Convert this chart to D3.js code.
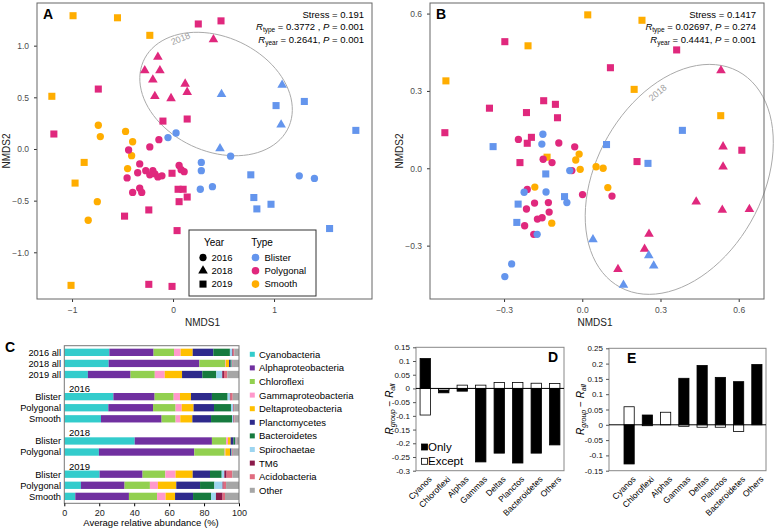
<!DOCTYPE html>
<html><head><meta charset="utf-8">
<script src="https://cdn.jsdelivr.net/npm/d3@7"></script>
<style>body{margin:0;background:#fff}svg{display:block}text{font-family:"Liberation Sans",Arial,Helvetica,sans-serif}</style>
</head><body><svg id="c" width="780" height="530"></svg>
<script>
// ---------- DATA ----------
const typeNames = ["Blister", "Polygonal", "Smooth"];
const typeColors = ["#6495ED", "#E0287D", "#FFAD00"];
const yearNames = ["2016", "2018", "2019"];
// [NMDS1, NMDS2, type index, year index]
const pointsA = [
  [-0.99,1.29,2,2],[-0.55,1.27,2,2],[-0.23,1.10,2,2],[-1.20,0.51,2,2],[-0.88,-0.13,2,2],[-0.97,-0.33,2,2],[-1.01,-1.32,2,2],
  [0.25,1.21,1,2],[0.475,1.24,1,2],[-0.74,0.58,1,2],[-0.10,0.27,1,2],[0.14,0.29,1,2],[-1.18,0.145,1,2],[-0.01,-0.235,1,2],
  [0.05,-0.39,1,2],[0.10,-0.39,1,2],[0.14,-0.465,1,2],[0.06,-0.51,1,2],[-0.24,-0.59,1,2],[-0.48,-0.65,1,2],[0.04,-0.79,1,2],
  [-0.24,-1.31,1,2],[-0.01,-1.33,1,2],
  [0.40,1.06,1,1],[-0.15,0.89,1,1],[-0.28,0.76,1,1],[-0.13,0.76,1,1],[-0.20,0.67,1,1],[0.12,0.63,1,1],[0.14,0.55,1,1],
  [-0.18,0.51,1,1],[-0.02,0.49,1,1],
  [0.48,0.53,0,1],[1.08,0.62,0,1],[1.07,0.235,0,1],[0.465,0.005,0,1],
  [1.30,0.46,0,2],[1.02,0.42,0,2],[1.81,0.18,0,2],[0.77,-0.25,0,2],[0.80,-0.47,0,2],[0.83,-0.58,0,2],[0.97,-0.535,0,2],[1.55,-0.77,0,2],
  [-0.05,0.11,0,0],[0.03,0.155,0,0],[0.57,-0.07,0,0],[0.28,-0.13,0,0],[0.28,-0.21,0,0],[0.27,-0.39,0,0],[0.39,-0.365,0,0],
  [1.25,-0.26,0,0],[1.40,-0.285,0,0],
  [-0.74,0.23,2,0],[-0.72,0.12,2,0],[-0.47,0.17,2,0],[-0.40,0.07,2,0],[-0.41,-0.065,2,0],[-0.45,-0.19,2,0],[-0.75,-0.51,2,0],[-0.84,-0.69,2,0],
  [-0.23,0.02,1,0],[-0.14,0.09,1,0],[-0.44,-0.01,1,0],[-0.455,-0.28,1,0],[-0.33,-0.145,1,0],[-0.35,-0.23,1,0],[-0.27,-0.21,1,0],
  [-0.20,-0.21,1,0],[-0.23,-0.25,1,0],[-0.18,-0.24,1,0],[-0.15,-0.27,1,0],[-0.11,-0.26,1,0],[-0.40,-0.42,1,0],[-0.33,-0.38,1,0],
  [-0.31,-0.42,1,0],[0.06,-0.16,1,0],[0.11,-0.22,1,0],[0.08,-0.20,1,0]
];
const pointsB = [
  [-0.208,0.475,2,2],[-0.523,0.339,2,2],[0.021,0.595,2,2],[0.229,0.574,2,2],[0.199,0.306,2,2],[0.531,0.204,2,2],[-0.135,0.043,2,2],
  [-0.297,0.491,1,2],[-0.356,0.233,1,2],[-0.214,0.216,1,2],[-0.148,0.262,1,2],[-0.103,0.248,1,2],[-0.095,0.196,1,2],[-0.527,0.138,1,2],
  [-0.195,0.12,1,2],[-0.211,0.097,1,2],[0.362,0.459,1,2],[0.108,0.390,1,2],[0.612,0.07,1,2],[-0.239,0.022,1,2],[0.21,0.026,1,2],
  [-0.342,0.084,0,2],[0.384,0.147,0,2],[0.093,0.092,0,2],[-0.14,-0.022,0,2],[-0.068,-0.11,0,2],[-0.246,-0.139,0,2],[-0.251,-0.21,0,2],[0.252,0.019,0,2],
  [0.532,0.379,1,1],[0.540,0.084,1,1],[0.540,0.006,1,1],[0.437,-0.13,1,1],[0.537,-0.162,1,1],[0.641,-0.159,1,1],[0.256,-0.255,1,1],
  [0.239,-0.313,1,1],[0.137,-0.392,1,1],
  [0.041,-0.276,0,1],[0.255,-0.338,0,1],[0.274,-0.378,0,1],[0.158,-0.453,0,1],
  [-0.245,0.112,1,0],[-0.09,0.098,1,0],[-0.029,0.083,1,0],[-0.150,0.035,1,0],[-0.116,0.022,1,0],[-0.040,-0.009,1,0],[-0.211,-0.082,1,0],
  [0.001,-0.102,1,0],[0.114,-0.108,1,0],[-0.183,-0.135,1,0],[-0.13,-0.133,1,0],[-0.214,-0.158,1,0],[-0.127,-0.17,1,0],[-0.172,-0.197,1,0],
  [-0.154,-0.192,1,0],[-0.221,-0.223,1,0],[-0.186,-0.256,1,0],
  [-0.151,0.132,0,0],[-0.155,0.094,0,0],[-0.048,-0.009,0,0],[-0.223,-0.093,0,0],[-0.139,-0.092,0,0],[-0.059,-0.133,0,0],[-0.173,-0.256,0,0],
  [-0.271,-0.371,0,0],[-0.297,-0.42,0,0],
  [-0.012,0.055,2,0],[-0.025,0.032,2,0],[-0.008,-0.004,2,0],[0.053,0.006,2,0],[0.08,0.0,2,0],[0.098,-0.075,2,0],[-0.182,-0.073,2,0],[-0.117,-0.213,2,0]
];
// 2018 ellipse: [centre x, centre y, semi-axis a, semi-axis b, angle deg]
const ellipseA = [0.426, 0.532, 0.787, 0.555, -23.4];
const ellipseB = [0.372, -0.043, 0.476, 0.32, 61.8];
const statsA = ["0.191", "0.3772 ,", "0.001", "0.2641,", "0.001"];
const statsB = ["0.1417", "0.02697,", "0.274", "0.4441,", "0.001"];

const phyla = ["Cyanobacteria","Alphaproteobacteria","Chloroflexi","Gammaproteobacteria","Deltaproteobacteria","Planctomycetes","Bacteroidetes","Spirochaetae","TM6","Acidobacteria","Other"];
const phylaColors = ["#33CCCC","#7030A0","#92D050","#FF99CC","#FFC000","#2E2A8C","#167A3E","#9DD5F0","#8B1A4A","#E06C7F","#A6A6A6"];
const cRowLabels = ["2016 all","2018 all","2019 all","2016","Blister","Polygonal","Smooth","2018","Blister","Polygonal","2019","Blister","Polygonal","Smooth"];
const cValues = [
  [25.8,25.3,11.7,3.8,6.9,11.8,9.5,1.4,0.4,0.7,2.7],
  [25.4,51.9,14.7,0.4,1.9,0.9,0.6,0.4,0.2,0.2,3.4],
  [13.5,24.4,13.9,5.7,9.9,11.6,8.0,3.4,1.0,1.9,6.7],
  null,
  [28.1,23.6,10.9,3.6,6.3,12.0,9.0,1.3,0.4,1.2,3.6],
  [25.2,25.6,12.9,3.5,6.8,11.7,9.7,1.2,0.3,0.3,2.8],
  [21.0,34.7,8.0,2.7,6.9,10.7,12.0,0.8,0.3,0.4,2.5],
  null,
  [40.3,44.2,8.1,1.1,1.5,1.6,0.9,0.4,0.2,0.2,1.5],
  [19.8,54.6,17.4,0.4,2.7,0.6,0.3,0.3,0.2,0.3,3.4],
  null,
  [20.2,24.6,13.0,5.9,9.8,9.9,6.7,1.5,1.3,3.3,3.8],
  [9.5,25.0,14.5,4.6,10.5,13.6,8.2,4.7,0.6,1.4,7.4],
  [6.3,30.7,16.1,4.9,5.4,10.3,10.3,2.8,3.8,1.4,8.0]
];
const cTicks = [0,20,40,60,80,100];

const groups = ["Cyanos","Chloroflexi","Alphas","Gammas","Deltas","Planctos","Bacteroidetes","Others"];
const dOnly = [0.109,-0.016,-0.010,-0.268,-0.236,-0.272,-0.236,-0.206];
const dExcept = [-0.097,-0.006,0.012,0.012,0.022,0.022,0.019,0.018];
const eOnly = [-0.128,0.032,0.0,0.152,0.194,0.155,0.141,0.197];
const eExcept = [0.059,-0.003,0.041,-0.005,-0.008,-0.008,-0.022,0.0];
const dTicks = [-0.3,-0.25,-0.2,-0.15,-0.1,-0.05,0,0.05,0.1,0.15];
const eTicks = [-0.15,-0.1,-0.05,0,0.05,0.1,0.15,0.2,0.25];

// ---------- DRAW ----------
const svg = d3.select("#c");
svg.append("rect").attr("width",780).attr("height",530).attr("fill","#fff");
const shapes = [d3.symbolCircle, d3.symbolTriangle, d3.symbolSquare];
const shapeSize = [42, 40, 50];

function nmdsPanel(o) {
  const g = svg.append("g");
  const x = d3.scaleLinear().domain(o.xd).range([o.x0, o.x1]);
  const y = d3.scaleLinear().domain(o.yd).range([o.y1, o.y0]);
  const ax = g.append("g").attr("transform",`translate(0,${o.y1})`)
    .call(d3.axisBottom(x).tickValues(o.xt).tickFormat(d3.format(o.xf)).tickSize(3).tickPadding(5));
  const ay = g.append("g").attr("transform",`translate(${o.x0},0)`)
    .call(d3.axisLeft(y).tickValues(o.yt).tickFormat(d3.format(o.yf)).tickSize(3).tickPadding(5));
  [ax, ay].forEach(a => {
    a.select(".domain").remove();
    a.selectAll("line").attr("stroke","#333");
    a.selectAll("text").attr("fill","#4d4d4d").style("font-size","8.5px");
  });
  const e = o.ell, t = e[4]*Math.PI/180;
  const pts = d3.range(0, 360, 4).map(d => {
    const u = d*Math.PI/180, ex = e[2]*Math.cos(u), ey = e[3]*Math.sin(u);
    return [e[0] + ex*Math.cos(t) - ey*Math.sin(t), e[1] + ex*Math.sin(t) + ey*Math.cos(t)];
  });
  g.append("path").attr("d", d3.line().x(d=>x(d[0])).y(d=>y(d[1])).curve(d3.curveCardinalClosed)(pts))
    .attr("fill","none").attr("stroke","#aaa").attr("stroke-width",1);
  g.append("text").attr("transform",`translate(${x(o.lab[0])},${y(o.lab[1])}) rotate(${o.lab[2]})`)
    .attr("text-anchor","middle").attr("fill","#a0a0a0").style("font-size","9px").text("2018");
  g.append("g").selectAll("path").data(o.pts).join("path")
    .attr("transform", d => `translate(${x(d[0])},${y(d[1])})`)
    .attr("d", d => d3.symbol().type(shapes[d[3]]).size(shapeSize[d[3]])())
    .attr("fill", d => typeColors[d[2]]);
  g.append("rect").attr("x",o.x0).attr("y",o.y0).attr("width",o.x1-o.x0).attr("height",o.y1-o.y0)
    .attr("fill","none").attr("stroke","#666").attr("stroke-width",1);
  g.append("text").attr("x",(o.x0+o.x1)/2 - 2).attr("y",o.y1+27).attr("text-anchor","middle")
    .style("font-size","10px").attr("fill","#222").text("NMDS1");
  g.append("text").attr("transform",`translate(${o.x0-27.5},${(o.y0+o.y1)/2}) rotate(-90)`).attr("text-anchor","middle")
    .style("font-size","10px").attr("fill","#222").text("NMDS2");
  g.append("text").attr("x",o.x0+6).attr("y",19).style("font-size","14px").style("font-weight","bold").text(o.label);
  const s = o.stats, sx = o.x1 - 8;
  g.append("text").attr("x",sx).attr("y",17.5).attr("text-anchor","end").style("font-size","9.5px").text("Stress = " + s[0]);
  [["type", s[1], s[2], 30], ["year", s[3], s[4], 43]].forEach(r => {
    const tt = g.append("text").attr("x",sx).attr("y",r[3]).attr("text-anchor","end").style("font-size","9.5px");
    tt.append("tspan").style("font-style","italic").text("R");
    tt.append("tspan").style("font-size","6.5px").attr("dy",2).text(r[0]);
    tt.append("tspan").attr("dy",-2).text(" = " + r[1] + " ");
    tt.append("tspan").style("font-style","italic").text("P");
    tt.append("tspan").text(" = " + r[2]);
  });
  return {x, y};
}

nmdsPanel({x0:37, x1:372, y0:3, y1:299, xd:[-1.347,1.970], yd:[-1.452,1.413], xt:[-1,0,1], yt:[-1,-0.5,0,0.5,1],
  xf:"d", yf:".1f", ell:ellipseA, lab:[0.086,1.04,-22], pts:pointsA, label:"A", stats:statsA});
nmdsPanel({x0:430, x1:764, y0:3, y1:299, xd:[-0.584,0.697], yd:[-0.507,0.641], xt:[-0.3,0,0.3,0.6], yt:[-0.3,0,0.3,0.6],
  xf:".1f", yf:".1f", ell:ellipseB, lab:[0.297,0.284,-40], pts:pointsB, label:"B", stats:statsB});

// legend A
{
  const g = svg.append("g");
  g.append("rect").attr("x",189).attr("y",230).attr("width",127).attr("height",66).attr("fill","#fff").attr("stroke","#333");
  g.append("text").attr("x",214).attr("y",245.5).attr("text-anchor","middle").style("font-size","10px").text("Year");
  g.append("text").attr("x",262).attr("y",245.5).attr("text-anchor","middle").style("font-size","10px").text("Type");
  yearNames.forEach((n,i) => {
    const yy = 257.5 + i*13.3;
    g.append("path").attr("transform",`translate(203,${yy})`).attr("d", d3.symbol().type(shapes[i]).size(shapeSize[i])()).attr("fill","#000");
    g.append("text").attr("x",211.5).attr("y",yy+3.3).style("font-size","9.5px").text(n);
  });
  typeNames.forEach((n,i) => {
    const yy = 257.5 + i*13.3;
    g.append("circle").attr("cx",255.5).attr("cy",yy).attr("r",3.8).attr("fill",typeColors[i]);
    g.append("text").attr("x",264.5).attr("y",yy+3.3).style("font-size","9.5px").text(n);
  });
}

// ---------- Panel C ----------
{
  const g = svg.append("g");
  const x = d3.scaleLinear().domain([0,100]).range([64.3,239]).clamp(true);
  const y = d3.scaleBand().domain(d3.range(cRowLabels.length)).range([346.8,501.9]).paddingInner(0.34).paddingOuter(0.17);
  cValues.forEach((vals, i) => {
    if (!vals) {
      g.append("text").attr("x",69).attr("y",y(i)+y.bandwidth()/2+6.5).style("font-size","9.5px").text(cRowLabels[i]);
      return;
    }
    const cum = d3.cumsum(vals);
    g.append("g").selectAll("rect").data(vals).join("rect")
      .attr("x",(d,j)=>x(cum[j]-d)).attr("width",(d,j)=>Math.max(0,x(cum[j])-x(cum[j]-d)))
      .attr("y",y(i)).attr("height",y.bandwidth()).attr("fill",(d,j)=>phylaColors[j]);
    g.append("text").attr("x",61).attr("y",y(i)+y.bandwidth()/2+3.3).attr("text-anchor","end")
      .style("font-size","9.3px").text(cRowLabels[i]);
  });
  g.append("rect").attr("x",64.3).attr("y",345.7).attr("width",239-64.3).attr("height",503.3-345.7)
    .attr("fill","none").attr("stroke","#777");
  const ax = g.append("g").attr("transform","translate(0,503.3)")
    .call(d3.axisBottom(x).tickValues(cTicks).tickSize(3).tickPadding(3));
  ax.select(".domain").remove();
  ax.selectAll("text").style("font-size","9px").attr("fill","#222");
  g.append("text").attr("x",151).attr("y",526).attr("text-anchor","middle").style("font-size","9.5px").text("Average relative abundance (%)");
  g.append("text").attr("x",5).attr("y",352).style("font-size","14px").style("font-weight","bold").text("C");
  phyla.forEach((p,i) => {
    const yy = 354.3 + i*13.6;
    g.append("rect").attr("x",249.8).attr("y",yy-2.5).attr("width",5).attr("height",5).attr("fill",phylaColors[i]);
    g.append("text").attr("x",259).attr("y",yy+3.4).style("font-size","9.5px").text(p);
  });
}

// ---------- Panels D & E ----------
function diffPanel(o) {
  const g = svg.append("g");
  const x = d3.scaleBand().domain(groups).range([o.bx0,o.x1]).paddingInner(0.44).paddingOuter(0.22);
  const y = d3.scaleLinear().domain(o.yd).range([o.y1,o.y0]);
  g.append("rect").attr("x",o.x0).attr("y",o.y0).attr("width",o.x1-o.x0).attr("height",o.y1-o.y0)
    .attr("fill","none").attr("stroke","#888");
  const ay = g.append("g").attr("transform",`translate(${o.x0},0)`)
    .call(d3.axisLeft(y).tickValues(o.ticks).tickFormat(d => Math.abs(d)<1e-9 ? "0" : String(+d.toFixed(2))).tickSize(3).tickPadding(3));
  ay.select(".domain").remove();
  ay.selectAll("text").style("font-size","8px").attr("fill","#111");
  ay.selectAll("line").attr("stroke","#555");
  const bar = (vals, fill) => g.append("g").selectAll("rect").data(vals).join("rect")
    .attr("x",(d,i)=>x(groups[i])).attr("width",x.bandwidth())
    .attr("y",d=>y(Math.max(0,d))).attr("height",d=>Math.abs(y(d)-y(0)))
    .attr("fill",fill).attr("stroke","#000").attr("stroke-width",0.8);
  bar(o.only, "#000");
  bar(o.except, "#fff");
  g.append("line").attr("x1",o.x0).attr("x2",o.x1).attr("y1",y(0)).attr("y2",y(0)).attr("stroke","#000");
  g.selectAll(".cat").data(groups).join("text")
    .attr("transform", d => `translate(${x(d)+x.bandwidth()/2+5},${o.y1+7}) rotate(-45)`)
    .attr("text-anchor","end").attr("dy","0.35em").style("font-size","8.5px").text(d=>d);
  const tt = g.append("text").attr("transform",`translate(${o.titleX},${(o.y0+o.y1)/2}) rotate(-90)`)
    .attr("text-anchor","middle").style("font-size","10px");
  tt.append("tspan").style("font-style","italic").text("R");
  tt.append("tspan").style("font-style","italic").style("font-size","7px").attr("dy",2).text("group");
  tt.append("tspan").attr("dy",-2).text(" \u2212 ");
  tt.append("tspan").style("font-style","italic").text("R");
  tt.append("tspan").style("font-style","italic").style("font-size","7px").attr("dy",2).text("all");
  g.append("text").attr("x",o.labX).attr("y",o.y0+15).style("font-size","14px").style("font-weight","bold").text(o.label);
  return {x,y,g};
}
const D = diffPanel({x0:416, bx0:416, x1:564, y0:347.3, y1:470.7, yd:[-0.3,0.15], ticks:dTicks, only:dOnly, except:dExcept, titleX:393, labX:548, label:"D"});
const E = diffPanel({x0:609, bx0:620, x1:766, y0:348.3, y1:470.7, yd:[-0.15,0.25], ticks:eTicks, only:eOnly, except:eExcept, titleX:584, labX:627, label:"E"});
[["Only","#000"],["Except","#fff"]].forEach((l,i) => {
  const yy = 447 + i*14.3;
  D.g.append("rect").attr("x",421.5).attr("y",yy-3).attr("width",6).attr("height",6).attr("fill",l[1]).attr("stroke","#000").attr("stroke-width",0.8);
  D.g.append("text").attr("x",428).attr("y",yy+4).style("font-size","11.5px").text(l[0]);
});
</script></body></html>
